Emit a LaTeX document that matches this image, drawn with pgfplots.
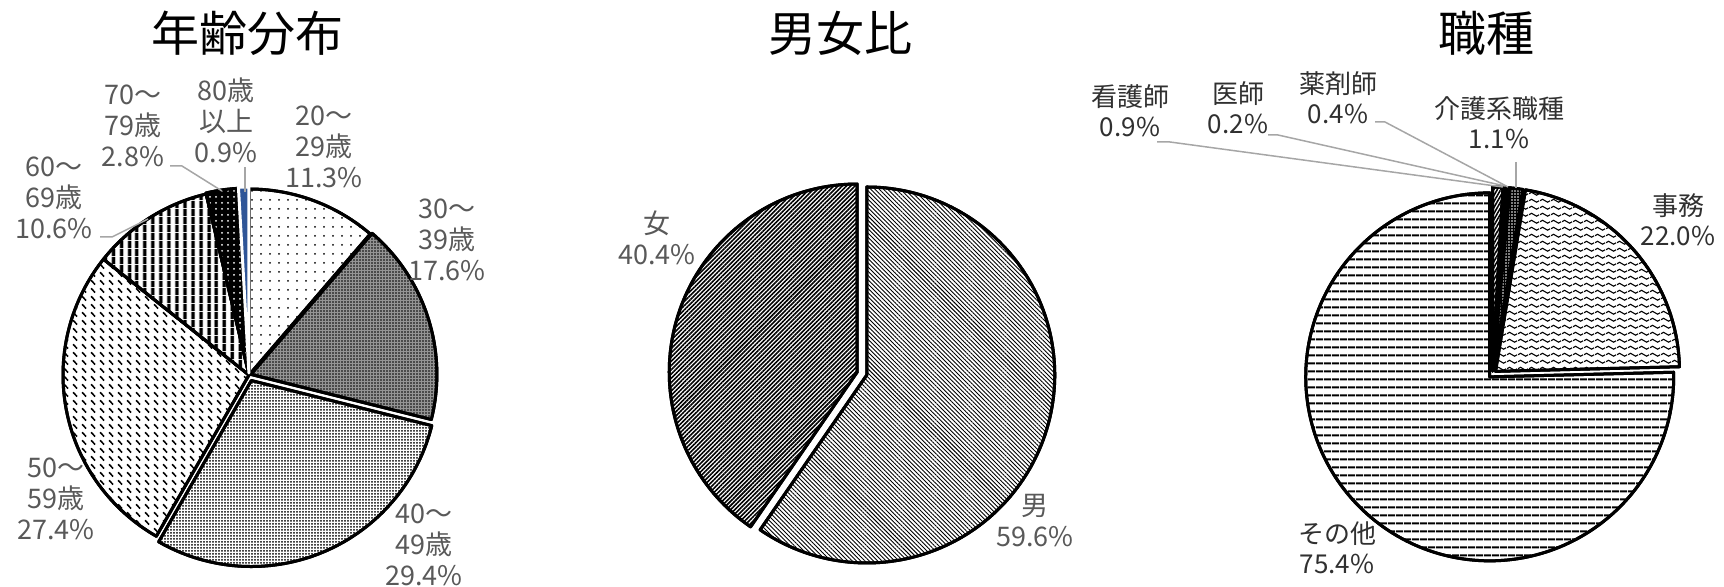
\documentclass[border=0pt]{standalone}
\usepackage{fontspec}
\setmainfont{Noto Sans CJK JP}
\usepackage{pgfplots}
\pgfplotsset{compat=1.18}
\usetikzlibrary{patterns,patterns.meta}
\definecolor{labelgray}{HTML}{595959}
\definecolor{labeldark}{HTML}{303030}
\definecolor{leader}{HTML}{A6A6A6}
\definecolor{blueeighty}{HTML}{2F5597}

\pgfdeclarepatternformonly{dashdiag}{\pgfpointorigin}{\pgfpoint{4.5pt}{3.75pt}}{\pgfpoint{4.5pt}{3.75pt}}{%
  \pgfsetlinewidth{0.85pt}%
  \pgfpathmoveto{\pgfpoint{0.6pt}{3.0pt}}%
  \pgfpathlineto{\pgfpoint{2.8pt}{0.8pt}}%
  \pgfusepath{stroke}}
\pgfdeclarepatternformonly{wave}{\pgfpointorigin}{\pgfpoint{5.5pt}{3.6pt}}{\pgfpoint{5.5pt}{3.6pt}}{%
  \pgfsetlinewidth{0.6pt}%
  \pgfpathmoveto{\pgfpoint{0pt}{1.8pt}}%
  \pgfpathsine{\pgfpoint{1.375pt}{0.8pt}}%
  \pgfpathcosine{\pgfpoint{1.375pt}{-0.8pt}}%
  \pgfpathsine{\pgfpoint{1.375pt}{-0.8pt}}%
  \pgfpathcosine{\pgfpoint{1.375pt}{0.8pt}}%
  \pgfusepath{stroke}}

\gdef\cum{0}
% #1 cx, #2 cy, #3 r, #4 explode, #5 value (percent), #6 style
\newcommand{\pieslice}[6]{%
  \pgfmathsetmacro\aS{\cum*3.6}%
  \pgfmathsetmacro\aE{(\cum+#5)*3.6}%
  \pgfmathsetmacro\aM{(\aS+\aE)/2}%
  \pgfmathsetmacro\ox{#1+#4*sin(\aM)}%
  \pgfmathsetmacro\oy{#2-#4*cos(\aM)}%
  \pgfmathtruncatemacro\ns{max(4,(\aE-\aS)/1.5+2)}%
  \pgfmathsetmacro\newcum{\cum+#5}%
  \xdef\cum{\newcum}%
  \edef\doplot{\noexpand\addplot[mark=none,line join=round,#6,domain=\aS:\aE,samples=\ns,variable=\noexpand\t]
    ({\ox+#3*sin(\noexpand\t)},{\oy-#3*cos(\noexpand\t)}) -- (axis cs:\ox,\oy) -- cycle;}%
  \doplot
}

\begin{document}
\begin{tikzpicture}
\begin{axis}[at={(431pt,146.75pt)},anchor=center,
  width=862pt,height=293.5pt,scale only axis,
  xmin=0,xmax=1724,ymin=0,ymax=587,y dir=reverse,
  hide axis,clip=false]

% ---------- 年齢分布 ----------
\gdef\cum{0}
\pieslice{249}{375}{186}{0}{11.3}{draw=black,line width=1.5pt,fill=white,postaction={pattern={Dots[distance=4.5pt,radius=0.5pt]}}}
\pieslice{249}{375}{186}{2}{17.6}{draw=black,line width=1.5pt,fill=black!42,postaction={pattern={Dots[distance=1.5pt,radius=0.45pt]}}}
\pieslice{249}{375}{186}{6}{29.4}{draw=black,line width=1.5pt,fill=white,postaction={pattern={Dots[distance=1.5pt,radius=0.5pt]}}}
\pieslice{249}{375}{186}{0}{27.4}{draw=black,line width=1.5pt,fill=white,postaction={pattern=dashdiag}}
\pieslice{249}{375}{186}{0}{10.6}{draw=black,line width=1.5pt,fill=white,postaction={pattern={Lines[angle=90,distance=4pt,line width=1.9pt]}}}
\pieslice{249}{375}{186}{1}{2.8}{draw=black,line width=1.5pt,fill=black,postaction={pattern={Dots[distance=3pt,radius=0.5pt]},pattern color=white}}
\pieslice{249}{375}{186}{2}{0.9}{draw=white,line width=1.5pt,fill=blueeighty}

\addplot[leader,line width=0.75pt,mark=none] coordinates {(170,166) (182,166) (222,191)};
\addplot[leader,line width=0.75pt,mark=none] coordinates {(100,237) (112,237) (148,219)};
\addplot[leader,line width=0.75pt,mark=none] coordinates {(245,167) (245,192)};

% ---------- 男女比 ----------
\gdef\cum{0}
\pieslice{862}{373.5}{188}{5}{59.6}{draw=black,line width=1.5pt,fill=white,postaction={pattern={Lines[angle=-45,distance=1.5pt,line width=0.45pt]}}}
\pieslice{862}{373.5}{188}{5}{40.4}{draw=black,line width=1.5pt,fill=white,postaction={pattern={Lines[angle=45,distance=1.5pt,line width=0.8pt]}}}

% ---------- 職種 ----------
\gdef\cum{0}
\pieslice{1492.5}{374}{184}{3}{0.9}{draw=black,line width=1.5pt,fill=white,postaction={pattern={Lines[angle=60,distance=1.5pt,line width=0.8pt]}}}
\pieslice{1492.5}{374}{184}{3}{0.2}{draw=black,line width=1.5pt,fill=black}
\pieslice{1492.5}{374}{184}{3}{0.4}{draw=black,line width=1.5pt,fill=black}
\pieslice{1492.5}{374}{184}{3}{1.1}{draw=black,line width=1.5pt,fill=black,postaction={pattern={Dots[distance=1.5pt,radius=0.45pt]},pattern color=white}}
\pieslice{1492.5}{374}{184}{4}{22.0}{draw=black,line width=1.5pt,fill=white,postaction={pattern=wave}}
\pieslice{1492.5}{374}{184}{4}{75.4}{draw=black,line width=1.5pt,fill=white,postaction={pattern={Lines[angle=0,distance=4pt,line width=1.15pt]}}}

\addplot[leader,line width=0.75pt,mark=none] coordinates {(1157,142) (1170,142) (1503,187)};
\addplot[leader,line width=0.75pt,mark=none] coordinates {(1268,135) (1278,135) (1505,186)};
\addplot[leader,line width=0.75pt,mark=none] coordinates {(1375,122) (1385,122) (1508,187)};
\addplot[leader,line width=0.75pt,mark=none] coordinates {(1516,162) (1516,188)};

% ---------- titles ----------
\node[font=\fontsize{24}{28}\selectfont,text=black] at (axis cs:247,33) {年齢分布};
\node[font=\fontsize{24}{28}\selectfont,text=black] at (axis cs:840,33) {男女比};
\node[font=\fontsize{24}{28}\selectfont,text=black] at (axis cs:1486,33) {職種};

% ---------- labels ----------
\tikzset{lab/.style={align=center,font=\fontsize{13.5}{15.5}\selectfont,text=labelgray,inner sep=0pt},
         labd/.style={align=center,font=\fontsize{13}{15}\selectfont,text=labeldark,inner sep=0pt}}
\node[lab] at (axis cs:324,147) {20～\\29歳\\11.3\%};
\node[lab] at (axis cs:447,240) {30～\\39歳\\17.6\%};
\node[lab] at (axis cs:424,545) {40～\\49歳\\29.4\%};
\node[lab] at (axis cs:56,499) {50～\\59歳\\27.4\%};
\node[lab] at (axis cs:54,198) {60～\\69歳\\10.6\%};
\node[lab] at (axis cs:133,126) {70～\\79歳\\2.8\%};
\node[lab] at (axis cs:226,120) {80歳\\以上\\0.9\%};

\node[lab] at (axis cs:657,238) {女\\40.4\%};
\node[lab] at (axis cs:1035,521) {男\\59.6\%};

\node[labd] at (axis cs:1130,111) {看護師\\0.9\%};
\node[labd] at (axis cs:1238,108) {医師\\0.2\%};
\node[labd] at (axis cs:1338,98) {薬剤師\\0.4\%};
\node[labd] at (axis cs:1499,123) {介護系職種\\1.1\%};
\node[labd] at (axis cs:1678,220) {事務\\22.0\%};
\node[labd] at (axis cs:1337,548) {その他\\75.4\%};
\end{axis}
\pgfresetboundingbox
\useasboundingbox (0,0) rectangle (862pt,293.5pt);
\end{tikzpicture}
\end{document}
